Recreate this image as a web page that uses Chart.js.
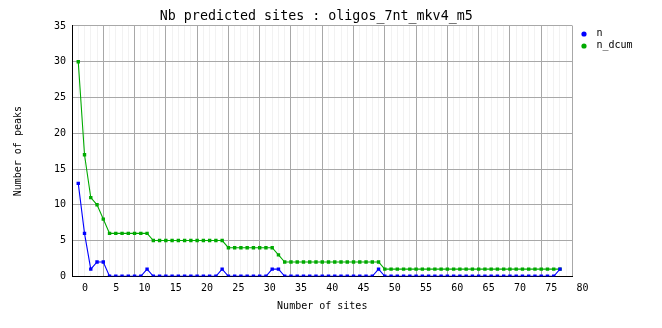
<!DOCTYPE html>
<html><head><meta charset="utf-8">
<script src="https://cdn.jsdelivr.net/npm/chart.js@4"></script>
<style>html,body{margin:0;padding:0;background:#fff}canvas{display:block}</style>
</head><body>
<canvas id="c" width="662" height="328"></canvas>
<script>
const titleText = 'Nb predicted sites : oligos_7nt_mkv4_m5';
const sites = [1,2,3,4,5,6,7,8,9,10,11,12,13,14,15,16,17,18,19,20,
  21,22,23,24,25,26,27,28,29,30,31,32,33,34,35,36,37,38,39,40,
  41,42,43,44,45,46,47,48,49,50,51,52,53,54,55,56,57,58,59,60,
  61,62,63,64,65,66,67,68,69,70,71,72,73,74,75,76,77,78];
const nValues = [13,6,1,2,2,0,0,0,0,0,
  0,1,0,0,0,0,0,0,0,0,
  0,0,0,1,0,0,0,0,0,0,
  0,1,1,0,0,0,0,0,0,0,
  0,0,0,0,0,0,0,0,1,0,
  0,0,0,0,0,0,0,0,0,0,
  0,0,0,0,0,0,0,0,0,0,
  0,0,0,0,0,0,0,1];
const nDcumValues = [30,17,11,10,8,6,6,6,6,6,
  6,6,5,5,5,5,5,5,5,5,
  5,5,5,5,4,4,4,4,4,4,
  4,4,3,2,2,2,2,2,2,2,
  2,2,2,2,2,2,2,2,2,1,
  1,1,1,1,1,1,1,1,1,1,
  1,1,1,1,1,1,1,1,1,1,
  1,1,1,1,1,1,1,1];
const xTickValues = [0,5,10,15,20,25,30,35,40,45,50,55,60,65,70,75,80];
const yTickValues = [0,5,10,15,20,25,30,35];

const MONO = '"DejaVu Sans Mono", monospace';
const BLUE = '#0000ff';
const GREEN = '#00aa00';
const MAJOR = '#a8a8a8';
const MINOR = '#f2f2f2';

Chart.defaults.font.family = MONO;
Chart.defaults.color = '#000';

function legendDot(color) {
  const c = document.createElement('canvas');
  c.width = 18; c.height = 8;
  const g = c.getContext('2d');
  g.fillStyle = color;
  g.beginPath(); g.arc(10, 5, 2.6, 0, Math.PI * 2); g.fill();
  return c;
}

function pts(vals) { return sites.map((s, i) => ({x: s, y: vals[i]})); }

new Chart(document.getElementById('c'), {
  type: 'line',
  data: {
    datasets: [
      {label: 'n', data: pts(nValues), borderColor: BLUE, backgroundColor: BLUE,
       borderWidth: 1.1, pointStyle: 'rect', pointRadius: 2.4, pointBorderWidth: 0,
       pointBackgroundColor: BLUE, tension: 0},
      {label: 'n_dcum', data: pts(nDcumValues), borderColor: GREEN, backgroundColor: GREEN,
       borderWidth: 1.1, pointStyle: 'rect', pointRadius: 2.4, pointBorderWidth: 0,
       pointBackgroundColor: GREEN, tension: 0}
    ]
  },
  options: {
    responsive: false, animation: false, devicePixelRatio: 1,
    layout: {padding: {left: 0, right: 29.5, top: 0, bottom: 0}},
    plugins: {
      title: {display: true, text: titleText, color: '#000',
        font: {family: MONO, size: 13.33, weight: 'normal', lineHeight: 1.2},
        padding: {top: 9, bottom: 1}},
      legend: {position: 'right', align: 'start', maxWidth: 60, fullSize: false,
        labels: {usePointStyle: true, pointStyleWidth: 17, padding: 2, color: '#000',
          font: {family: MONO, size: 10},
          generateLabels(chart) {
            const items = Chart.defaults.plugins.legend.labels.generateLabels(chart);
            items.forEach(it => {
              it.pointStyle = legendDot(chart.data.datasets[it.datasetIndex].borderColor);
              it.lineWidth = 0;
            });
            return items;
          }}},
      tooltip: {enabled: false}
    },
    scales: {
      x: {type: 'linear', min: 0, max: 80,
        afterFit(s) { s.height = 51.7; },
        border: {display: true, color: '#000', width: 1},
        grid: {drawTicks: false, lineWidth: 1,
          color: ctx => (ctx.tick && xTickValues.includes(ctx.tick.value)) ? MAJOR : MINOR},
        ticks: {stepSize: 1, maxTicksLimit: 100, autoSkip: false, maxRotation: 0, minRotation: 0,
          align: 'end', labelOffset: 16, padding: 6, color: '#000',
          font: {family: MONO, size: 10},
          callback: v => xTickValues.includes(v) ? String(v) : ''},
        title: {display: true, text: 'Number of sites', color: '#000',
          font: {family: MONO, size: 10}, padding: {top: 0, bottom: 16}}
      },
      y: {type: 'linear', min: 0, max: 35,
        afterFit(s) { s.width = 72; },
        border: {display: true, color: '#000', width: 1},
        grid: {drawTicks: false, lineWidth: 1, color: MAJOR},
        ticks: {stepSize: 5, padding: 6, color: '#000', font: {family: MONO, size: 10},
          callback: v => yTickValues.includes(v) ? String(v) : ''},
        title: {display: true, text: 'Number of peaks', color: '#000',
          font: {family: MONO, size: 10}, padding: {top: 12, bottom: 0}}
      }
    }
  }
});
</script>
</body></html>
